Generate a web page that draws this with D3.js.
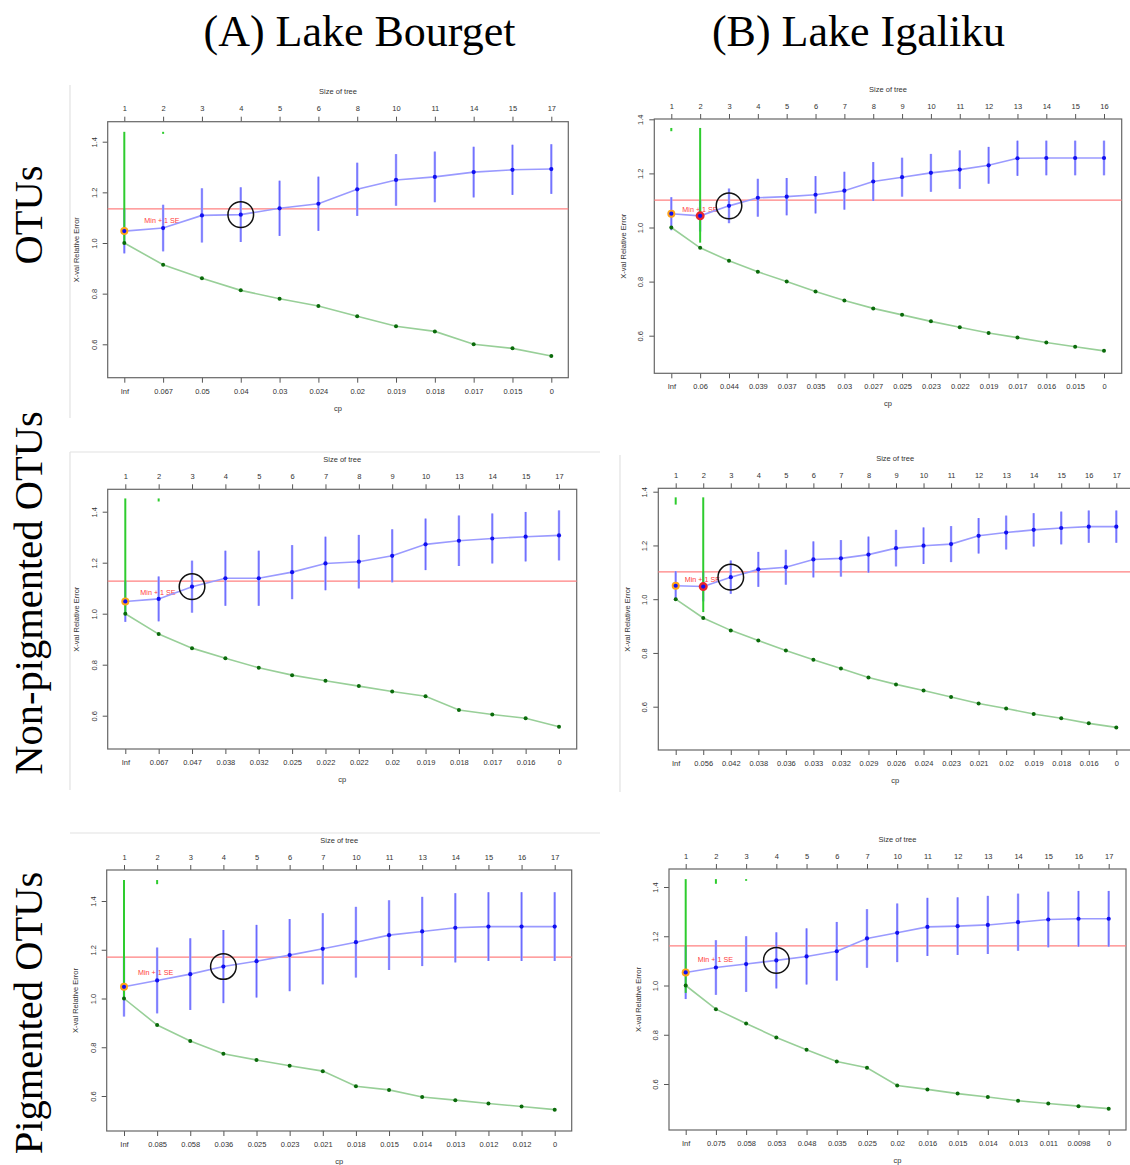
<!DOCTYPE html>
<html><head><meta charset="utf-8">
<script src="https://cdn.jsdelivr.net/npm/d3@7"></script>
<style>body{margin:0;background:#fff}svg{display:block}</style>
</head><body>
<svg id="c" width="1130" height="1165"></svg>
<script>
// ---------- data ----------
const colTitles = ["(A) Lake Bourget", "(B) Lake Igaliku"];
const rowTitles = ["OTUs", "Non-pigmented OTUs", "Pigmented OTUs"];
const yTicks = [0.6, 0.8, 1.0, 1.2, 1.4];

// Panel 1: Bourget, OTUs
const p1Size = [1,2,3,4,5,6,8,10,11,14,15,17];
const p1Cp = ["Inf","0.067","0.05","0.04","0.03","0.024","0.02","0.019","0.018","0.017","0.015","0"];
const p1Xerr = [1.047,1.059,1.109,1.112,1.137,1.155,1.212,1.249,1.261,1.280,1.289,1.292];
const p1Se = [0.088,0.092,0.107,0.108,0.109,0.107,0.105,0.102,0.100,0.100,0.099,0.098];
const p1Rel = [1.0,0.914,0.861,0.813,0.780,0.751,0.711,0.671,0.651,0.600,0.584,0.554];
const p1Green = [[0,1.0,1.439],[1,1.431,1.439]];

// Panel 2: Igaliku, OTUs
const p2Size = [1,2,3,4,5,6,7,8,9,10,11,12,13,14,15,16];
const p2Cp = ["Inf","0.06","0.044","0.039","0.037","0.035","0.03","0.027","0.025","0.023","0.022","0.019","0.017","0.016","0.015","0"];
const p2Xerr = [1.051,1.043,1.080,1.110,1.114,1.121,1.136,1.170,1.186,1.202,1.214,1.230,1.256,1.257,1.257,1.257];
const p2Se = [0.061,0.058,0.064,0.070,0.069,0.069,0.070,0.072,0.072,0.070,0.071,0.068,0.065,0.064,0.064,0.064];
const p2Rel = [1.0,0.925,0.877,0.836,0.800,0.763,0.730,0.701,0.677,0.653,0.631,0.610,0.593,0.575,0.559,0.544];
const p2Green = [[1,0.944,1.368],[0,1.356,1.368]];

// Panel 3: Bourget, non-pigmented
const p3Size = [1,2,3,4,5,6,7,8,9,10,13,14,15,17];
const p3Cp = ["Inf","0.067","0.047","0.038","0.032","0.025","0.022","0.022","0.02","0.019","0.018","0.017","0.016","0"];
const p3Xerr = [1.048,1.058,1.106,1.139,1.139,1.163,1.197,1.204,1.227,1.272,1.286,1.295,1.302,1.307];
const p3Se = [0.080,0.088,0.102,0.108,0.108,0.106,0.105,0.105,0.104,0.101,0.099,0.098,0.097,0.098];
const p3Rel = [1.0,0.920,0.865,0.825,0.788,0.759,0.737,0.716,0.695,0.676,0.622,0.605,0.590,0.557];
const p3Green = [[0,1.0,1.452],[1,1.440,1.452]];

// Panel 4: Igaliku, non-pigmented
const p4Size = [1,2,3,4,5,6,7,8,9,10,11,12,13,14,15,16,17];
const p4Cp = ["Inf","0.056","0.042","0.038","0.036","0.033","0.032","0.029","0.026","0.024","0.023","0.021","0.02","0.019","0.018","0.016","0"];
const p4Xerr = [1.050,1.047,1.082,1.111,1.119,1.148,1.152,1.166,1.190,1.199,1.205,1.236,1.248,1.258,1.265,1.270,1.270];
const p4Se = [0.054,0.055,0.062,0.065,0.065,0.067,0.068,0.067,0.068,0.068,0.067,0.066,0.063,0.062,0.061,0.060,0.060];
const p4Rel = [1.0,0.930,0.884,0.846,0.809,0.775,0.742,0.709,0.683,0.660,0.636,0.612,0.593,0.573,0.557,0.538,0.523];
const p4Green = [[1,0.952,1.379],[0,1.352,1.379]];

// Panel 5: Bourget, pigmented
const p5Size = [1,2,3,4,5,6,7,10,11,13,14,15,16,17];
const p5Cp = ["Inf","0.085","0.058","0.036","0.025","0.023","0.021","0.018","0.015","0.014","0.013","0.012","0.012","0"];
const p5Xerr = [1.048,1.074,1.100,1.131,1.153,1.178,1.204,1.231,1.260,1.275,1.290,1.295,1.295,1.295];
const p5Se = [0.122,0.135,0.147,0.150,0.149,0.148,0.146,0.145,0.143,0.142,0.142,0.141,0.141,0.141];
const p5Rel = [1.0,0.891,0.826,0.773,0.748,0.724,0.702,0.640,0.625,0.596,0.583,0.569,0.557,0.544];
const p5Green = [[0,1.0,1.486],[1,1.469,1.486]];

// Panel 6: Igaliku, pigmented
const p6Size = [1,2,3,4,5,6,7,10,11,12,13,14,15,16,17];
const p6Cp = ["Inf","0.075","0.058","0.053","0.048","0.035","0.025","0.02","0.016","0.015","0.014","0.013","0.011","0.0098","0"];
const p6Xerr = [1.053,1.073,1.087,1.102,1.118,1.139,1.191,1.214,1.238,1.241,1.246,1.257,1.268,1.271,1.271];
const p6Se = [0.108,0.111,0.113,0.114,0.114,0.119,0.119,0.119,0.118,0.117,0.118,0.116,0.113,0.113,0.113];
const p6Rel = [1.0,0.904,0.846,0.789,0.739,0.691,0.666,0.594,0.578,0.561,0.547,0.532,0.521,0.510,0.500];
const p6Green = [[0,0.97,1.432],[1,1.413,1.432],[2,1.425,1.432]];

// index of circled tree size in each panel
const pickedIdx = [3, 2, 2, 2, 3, 3];

// ---------- layout (pixel geometry only) ----------
const layout = [
  {L:107.7, R:568.3, T:121.7, B:377.7, x0:124.3, x1:551.3, y14:141.7, y06:344.3, tx:20, ty:12},
  {L:654.3, R:1121.7, T:119,  B:373.3, x0:671.3, x1:1104,  y14:119.3, y06:335.7, tx:11, ty:9},
  {L:107.7, R:576.7, T:489.3, B:749,   x0:125.3, x1:559,   y14:511.7, y06:715.7, tx:15, ty:11},
  {L:658.3, R:1132,  T:488.3, B:750,   x0:675.7, x1:1116.3,y14:491.7, y06:706.7, tx:9,  ty:8},
  {L:106.7, R:571.7, T:870,   B:1131,  x0:124,   x1:554.7, y14:901,   y06:1096,  tx:14, ty:15},
  {L:669,   R:1126,  T:869,   B:1130,  x0:685.7, x1:1108.7,y14:887,   y06:1084,  tx:12, ty:14}
];

const panels = [
  {size:p1Size, cp:p1Cp, xerr:p1Xerr, se:p1Se, rel:p1Rel, green:p1Green},
  {size:p2Size, cp:p2Cp, xerr:p2Xerr, se:p2Se, rel:p2Rel, green:p2Green},
  {size:p3Size, cp:p3Cp, xerr:p3Xerr, se:p3Se, rel:p3Rel, green:p3Green},
  {size:p4Size, cp:p4Cp, xerr:p4Xerr, se:p4Se, rel:p4Rel, green:p4Green},
  {size:p5Size, cp:p5Cp, xerr:p5Xerr, se:p5Se, rel:p5Rel, green:p5Green},
  {size:p6Size, cp:p6Cp, xerr:p6Xerr, se:p6Se, rel:p6Rel, green:p6Green}
];

const svg = d3.select("#c");
const serif = "'Liberation Serif','Times New Roman',serif";
const sans = "'Liberation Sans',Arial,sans-serif";
const fs = 7.5;

// faint crop borders around some sub-images
const borders = [[70,85,70,418],[70,452,600,452],[70,452,70,790],[620,455,620,792],[70,833,600,833]];
svg.selectAll("line.border").data(borders).enter().append("line")
  .attr("x1",d=>d[0]).attr("y1",d=>d[1]).attr("x2",d=>d[2]).attr("y2",d=>d[3])
  .attr("stroke","#e2e2e2").attr("stroke-width",1.2);

// column titles
svg.selectAll("text.colt").data(colTitles).enter().append("text")
  .attr("x",(d,i)=>[359.5,858.5][i]).attr("y",46)
  .attr("text-anchor","middle").attr("font-family",serif).attr("font-size",44)
  .attr("fill","#000").text(d=>d);

// row titles (rotated)
svg.selectAll("text.rowt").data(rowTitles).enter().append("text")
  .attr("transform",(d,i)=>`translate(42,${[215,593,1013][i]}) rotate(-90)`)
  .attr("text-anchor","middle").attr("font-family",serif).attr("font-size",40.5)
  .attr("fill","#000").text(d=>d);

panels.forEach((p, k) => {
  const lo = layout[k];
  const n = p.size.length;
  const g = svg.append("g");
  const x = d3.scalePoint().domain(d3.range(n)).range([lo.x0, lo.x1]);
  const y = d3.scaleLinear().domain([0.6, 1.4]).range([lo.y06, lo.y14]);

  // bottom axis (cp)
  const ab = g.append("g").attr("transform",`translate(0,${lo.B})`)
    .call(d3.axisBottom(x).tickSize(5).tickPadding(5.5).tickFormat(i=>p.cp[i]));
  // top axis (size of tree)
  const at = g.append("g").attr("transform",`translate(0,${lo.T})`)
    .call(d3.axisTop(x).tickSize(5).tickPadding(5.5).tickFormat(i=>p.size[i]));
  // left axis
  const al = g.append("g").attr("transform",`translate(${lo.L},0)`)
    .call(d3.axisLeft(y).tickValues(yTicks).tickSize(5).tickFormat(d3.format(".1f")));
  al.selectAll("text").attr("transform","rotate(-90)").attr("x",0).attr("y",-11.2)
    .attr("dy",0).attr("text-anchor","middle");
  [ab, at, al].forEach(a => {
    a.select(".domain").remove();
    a.selectAll("line").attr("stroke","#555");
    a.selectAll("text").attr("font-family",sans).attr("font-size",fs).attr("fill","#333");
  });

  // box
  g.append("rect").attr("x",lo.L).attr("y",lo.T).attr("width",lo.R-lo.L).attr("height",lo.B-lo.T)
    .attr("fill","none").attr("stroke","#666").attr("stroke-width",1.2);

  // axis titles
  const cx = (lo.L+lo.R)/2, cy = (lo.T+lo.B)/2;
  g.append("text").attr("x",cx).attr("y",lo.T-27.3).attr("text-anchor","middle")
    .attr("font-family",sans).attr("font-size",fs).attr("fill","#333").text("Size of tree");
  g.append("text").attr("x",cx).attr("y",lo.B+33).attr("text-anchor","middle")
    .attr("font-family",sans).attr("font-size",fs).attr("fill","#333").text("cp");
  g.append("text").attr("transform",`translate(${lo.L-28.3},${cy}) rotate(-90)`).attr("text-anchor","middle")
    .attr("font-family",sans).attr("font-size",fs).attr("fill","#333").text("X-val Relative Error");

  // Min + 1 SE threshold
  const minI = d3.minIndex(p.xerr);
  const thr = p.xerr[minI] + p.se[minI];
  g.append("line").attr("x1",lo.L).attr("x2",Math.min(lo.R,1130)).attr("y1",y(thr)).attr("y2",y(thr))
    .attr("stroke","#ff8080").attr("stroke-width",1.2);
  g.append("text").attr("x",lo.x0+lo.tx).attr("y",y(thr)+lo.ty+2.6)
    .attr("font-family",sans).attr("font-size",7.2).attr("fill","#ff3b3b").text("Min + 1 SE");

  const idx = d3.range(n);
  // error bars
  g.selectAll("line.eb").data(idx).enter().append("line")
    .attr("x1",i=>x(i)).attr("x2",i=>x(i))
    .attr("y1",i=>y(p.xerr[i]-p.se[i])).attr("y2",i=>y(p.xerr[i]+p.se[i]))
    .attr("stroke","#a3a3ff").attr("stroke-width",2.4);
  g.selectAll("line.eb2").data(idx).enter().append("line")
    .attr("x1",i=>x(i)).attr("x2",i=>x(i))
    .attr("y1",i=>y(p.xerr[i]-p.se[i])).attr("y2",i=>y(p.xerr[i]+p.se[i]))
    .attr("stroke","#5050ff").attr("stroke-width",0.7);

  // lines
  const lineB = d3.line().x(i=>x(i)).y(i=>y(p.xerr[i]));
  const lineG = d3.line().x(i=>x(i)).y(i=>y(p.rel[i]));
  g.append("path").attr("d",lineB(idx)).attr("fill","none").attr("stroke","#9a9aff").attr("stroke-width",1.6);
  g.append("path").attr("d",lineG(idx)).attr("fill","none").attr("stroke","#98cf98").attr("stroke-width",1.6);

  // green bars
  g.selectAll("line.gb").data(p.green).enter().append("line")
    .attr("x1",d=>x(d[0])).attr("x2",d=>x(d[0]))
    .attr("y1",d=>y(d[1])).attr("y2",d=>y(d[2]))
    .attr("stroke","#2ecc2e").attr("stroke-width",2);

  // highlights
  g.append("circle").attr("cx",x(0)).attr("cy",y(p.xerr[0])).attr("r",4)
    .attr("fill","#ffa31a");
  if (minI !== 0) {
    g.append("circle").attr("cx",x(minI)).attr("cy",y(p.xerr[minI])).attr("r",4.5)
      .attr("fill","#e8262c");
  }

  // points
  g.selectAll("circle.gp").data(idx).enter().append("circle")
    .attr("cx",i=>x(i)).attr("cy",i=>y(p.rel[i])).attr("r",2).attr("fill","#0a6a0a");
  g.selectAll("circle.bp").data(idx).enter().append("circle")
    .attr("cx",i=>x(i)).attr("cy",i=>y(p.xerr[i])).attr("r",2.1).attr("fill","#1010f0");

  // chosen tree
  const pk = pickedIdx[k];
  g.append("circle").attr("cx",x(pk)).attr("cy",y(p.xerr[pk])).attr("r",12.8)
    .attr("fill","none").attr("stroke","#111").attr("stroke-width",1.5);
});
</script>
</body></html>
